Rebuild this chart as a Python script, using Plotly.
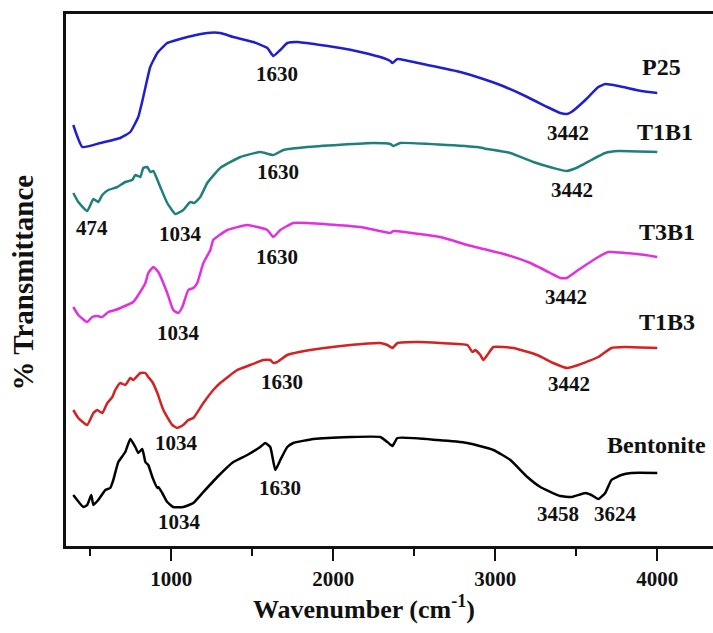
import plotly.graph_objects as go

# ---- data (wavenumber in cm-1, transmittance in arbitrary offset units) ----
p25_w = [395, 451, 562, 685, 747, 796, 827, 870, 914, 975, 1012, 1099, 1222, 1302, 1383, 1506, 1593, 1630,
         1673, 1716, 1778, 2044, 2167, 2309, 2352, 2365, 2396, 2580, 2784, 2926, 3031, 3198, 3321, 3401,
         3442, 3470, 3556, 3636, 3679, 3760, 3902, 4000]
p25_t = [421, 399, 403, 408, 414, 429, 449, 479, 493, 503, 505, 509, 513, 513, 509, 504, 498, 490,
         496, 503, 504, 498, 494, 488, 485, 483, 487, 481, 474, 467, 461, 449, 439, 433,
         432, 434, 446, 459, 462, 460, 455, 453]

t1b1_w = [395, 426, 481, 519, 549, 574, 611, 667, 716, 759, 778, 809, 827, 852, 870, 889, 932, 975, 1025,
          1074, 1117, 1142, 1179, 1222, 1302, 1426, 1549, 1630, 1692, 1840, 2247, 2352, 2371, 2414, 2889,
          2951, 3093, 3235, 3358, 3442, 3513, 3593, 3679, 3760, 4000]
t1b1_t = [353, 344, 335, 347, 344, 351, 356, 359, 364, 366, 371, 369, 378, 379, 374, 375, 359, 343, 332,
          336, 344, 343, 349, 363, 378, 389, 394, 391, 396, 399, 403, 402, 400, 403, 399,
          397, 393, 384, 378, 375, 379, 386, 393, 395, 394]

t3b1_w = [395, 426, 481, 512, 543, 574, 611, 654, 728, 765, 796, 840, 858, 889, 920, 975, 1012, 1043, 1068,
          1105, 1136, 1160, 1198, 1241, 1259, 1346, 1469, 1593, 1630, 1673, 1753, 1840, 2167, 2352, 2371,
          2580, 2661, 2828, 2926, 3074, 3216, 3340, 3401, 3442, 3451, 3531, 3636, 3698, 3803, 3927, 4000]
t3b1_t = [239, 231, 224, 229, 230, 229, 234, 236, 241, 244, 251, 263, 273, 279, 274, 253, 236, 233, 239,
          256, 258, 263, 283, 296, 306, 316, 321, 316, 309, 316, 323, 323, 319, 313, 315,
          311, 309, 301, 297, 291, 283, 273, 268, 268, 269, 278, 289, 294, 293, 291, 289]

t1b3_w = [395, 426, 481, 519, 543, 574, 605, 636, 654, 685, 716, 747, 765, 809, 840, 858, 883, 914, 951,
          1006, 1037, 1074, 1105, 1136, 1198, 1259, 1302, 1407, 1488, 1568, 1611, 1630, 1654, 1716, 1858,
          2105, 2290, 2334, 2365, 2396, 2519, 2661, 2828, 2859, 2877, 2908, 2926, 2951, 2988, 3111, 3259,
          3358, 3442, 3513, 3636, 3717, 3803, 4000]
t1b3_t = [136, 128, 121, 133, 136, 133, 143, 149, 156, 163, 161, 168, 166, 173, 173, 169, 164, 153, 136,
          121, 118, 121, 126, 128, 143, 156, 163, 176, 181, 186, 186, 183, 184, 191, 196,
          201, 203, 201, 198, 203, 204, 203, 201, 194, 196, 191, 186, 191, 199, 198, 191,
          183, 178, 181, 189, 198, 199, 198]

bent_w = [395, 457, 481, 506, 519, 549, 593, 623, 642, 673, 716, 747, 778, 796, 821, 840, 858, 883, 914,
          920, 944, 975, 1012, 1074, 1136, 1198, 1284, 1383, 1469, 1549, 1580, 1611, 1642, 1673, 1716,
          1753, 1877, 2105, 2290, 2334, 2365, 2396, 2642, 2828, 2988, 3093, 3198, 3278, 3401, 3470, 3556,
          3593, 3636, 3679, 3717, 3778, 3840, 4000]
bent_t = [51, 39, 41, 51, 41, 46, 56, 58, 66, 84, 94, 107, 99, 93, 97, 84, 81, 69, 58,
          59, 53, 44, 39, 39, 43, 54, 69, 84, 91, 99, 103, 99, 76, 86, 99,
          103, 107, 109, 109, 104, 100, 108, 106, 103, 96, 86, 69, 59, 50, 49, 53,
          51, 47, 53, 66, 71, 73, 73]

series_names = ["P25", "T1B1", "T3B1", "T1B3", "Bentonite"]
series_w = [p25_w, t1b1_w, t3b1_w, t1b3_w, bent_w]
series_t = [p25_t, t1b1_t, t3b1_t, t1b3_t, bent_t]
series_colors = ["#1f1fcf", "#1f7f7a", "#e030e0", "#d42222", "#000000"]

# peak labels
peak_text = ["1630", "3442", "1630", "474", "1034", "3442", "1630", "1034", "3442",
             "1630", "1034", "3442", "1630", "1034", "3458", "3624"]
peak_x = [1654, 3447, 1661, 512, 1055, 3475, 1654, 1043, 3439,
          1685, 1031, 3457, 1673, 1049, 3387, 3741]
peak_y = [472, 413, 374, 318, 312, 356, 289, 213, 249,
          164, 103, 162, 58, 24, 32, 32]

name_x = [4025, 4050, 4062, 4062, 3995]
name_y = [479, 414, 314, 224, 101]

tick_vals = [1000, 2000, 3000, 4000]
tick_text = ["1000", "2000", "3000", "4000"]

fig = go.Figure()
for n, w, t, c in zip(series_names, series_w, series_t, series_colors):
    fig.add_trace(go.Scatter(x=w, y=t, mode="lines", name=n,
                             line=dict(color=c, width=2.5, shape="spline", smoothing=0.4)))

serif = "Liberation Serif"
for txt, x, y in zip(peak_text, peak_x, peak_y):
    fig.add_annotation(x=x, y=y, text="<b>%s</b>" % txt, showarrow=False,
                       font=dict(family=serif, size=21, color="#111111"),
                       xanchor="center", yanchor="middle")
for txt, x, y in zip(series_names, name_x, name_y):
    fig.add_annotation(x=x, y=y, text="<b>%s</b>" % txt, showarrow=False,
                       font=dict(family=serif, size=24, color="#111111"),
                       xanchor="center", yanchor="middle")

fig.add_annotation(xref="paper", yref="paper", x=0.461, y=-0.115,
                   text="<b>Wavenumber (cm<sup>-1</sup>)</b>", showarrow=False,
                   font=dict(family=serif, size=26, color="#111111"),
                   xanchor="center", yanchor="middle")
fig.add_annotation(xref="paper", yref="paper", x=-0.066, y=0.496,
                   text="<b>% Transmittance</b>", showarrow=False, textangle=-90,
                   font=dict(family=serif, size=29, color="#111111"),
                   xanchor="center", yanchor="middle")

fig.update_layout(
    width=713, height=633,
    margin=dict(l=66, r=0, t=14, b=87),
    paper_bgcolor="white", plot_bgcolor="white",
    showlegend=False,
    xaxis=dict(range=[350, 4344], showgrid=False, zeroline=False,
               showline=True, linecolor="#111111", linewidth=2.5, mirror=True,
               tickmode="array", tickvals=tick_vals, ticktext=tick_text,
               ticks="outside", ticklen=12, tickwidth=2, tickcolor="#111111",
               minor=dict(tickvals=[500, 1500, 2500, 3500], ticks="outside", ticklen=7,
                          tickwidth=2, tickcolor="#111111"),
               tickfont=dict(family=serif, size=21, color="#111111", weight="bold")),
    yaxis=dict(range=[0, 532], showgrid=False, zeroline=False,
               showline=True, linecolor="#111111", linewidth=2.5, mirror=False,
               showticklabels=False, ticks=""),
)

fig.write_html("out.html")
